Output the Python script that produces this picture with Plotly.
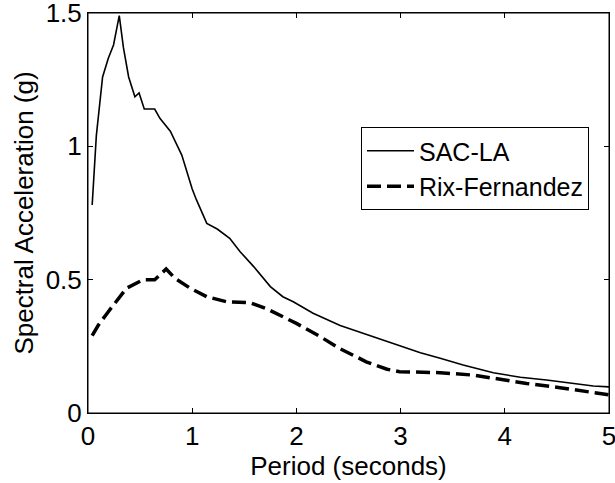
import plotly.graph_objects as go

sac_period = [0.04, 0.08, 0.14, 0.195, 0.245, 0.30, 0.34, 0.39, 0.45, 0.49, 0.54, 0.64, 0.69,
              0.73, 0.79, 0.90, 1.00, 1.04, 1.14, 1.24, 1.36, 1.46, 1.59, 1.75, 1.87, 1.97,
              2.16, 2.42, 2.74, 2.99, 3.19, 3.38, 3.60, 3.89, 4.15, 4.40, 4.66, 4.85, 5.00]
sac_sa = [0.78, 1.04, 1.26, 1.33, 1.38, 1.49, 1.37, 1.26, 1.186, 1.20, 1.14, 1.14, 1.105,
          1.086, 1.057, 0.967, 0.84, 0.80, 0.711, 0.69, 0.655, 0.605, 0.549, 0.474, 0.436, 0.417,
          0.374, 0.328, 0.286, 0.255, 0.226, 0.205, 0.18, 0.151, 0.134, 0.124, 0.111, 0.101, 0.098]

rix_period = [0.04, 0.10, 0.195, 0.37, 0.53, 0.64, 0.75, 0.835, 0.98, 1.14, 1.33, 1.55, 1.72,
              2.00, 2.23, 2.42, 2.67, 2.87, 2.99, 3.38, 3.70, 3.95, 4.21, 4.53, 4.79, 5.00]
rix_sa = [0.29, 0.33, 0.38, 0.468, 0.50, 0.50, 0.54, 0.505, 0.468, 0.436, 0.417, 0.414, 0.39,
          0.336, 0.286, 0.241, 0.192, 0.164, 0.155, 0.151, 0.142, 0.126, 0.111, 0.095, 0.08, 0.068]

x_ticks = [0, 1, 2, 3, 4, 5]
y_ticks = [0, 0.5, 1, 1.5]
y_tick_labels = ["0", "0.5", "1", "1.5"]

FONT = "Liberation Sans, Arial, Helvetica, sans-serif"
FS = 26

fig = go.Figure()
fig.add_trace(go.Scatter(x=sac_period, y=sac_sa, mode="lines", name="SAC-LA",
                         line=dict(color="black", width=1.6)))
fig.add_trace(go.Scatter(x=rix_period, y=rix_sa, mode="lines", name="Rix-Fernandez",
                         line=dict(color="black", width=3.5, dash="14px,6px")))

axis_common = dict(showgrid=False, zeroline=False, showline=True, linecolor="black",
                   linewidth=1, mirror="ticks", ticks="inside", ticklen=5,
                   tickcolor="black", tickwidth=1, automargin=False,
                   ticklabeloverflow="allow",
                   tickfont=dict(family=FONT, size=FS, color="black"))

fig.update_xaxes(range=[0, 5], tickvals=x_ticks, ticktext=[str(t) for t in x_ticks],
                 title=dict(text="Period (seconds)", font=dict(family=FONT, size=FS, color="black"),
                            standoff=2),
                 **axis_common)
fig.update_yaxes(range=[0, 1.5], tickvals=y_ticks, ticktext=y_tick_labels,
                 title=dict(text="Spectral Acceleration (g)", font=dict(family=FONT, size=FS, color="black"),
                            standoff=4),
                 **axis_common)

# plot-area frame (box on)
fig.add_shape(type="rect", xref="paper", yref="paper", x0=0, y0=0, x1=1, y1=1,
              line=dict(color="black", width=1), fillcolor="rgba(0,0,0,0)", layer="above")

fig.update_layout(
    width=615, height=483,
    margin=dict(l=88, r=6, t=13, b=70, autoexpand=False),
    paper_bgcolor="white", plot_bgcolor="white",
    showlegend=True,
    legend=dict(x=0.524, y=0.715, xanchor="left", yanchor="top",
                bgcolor="white", bordercolor="black", borderwidth=1,
                font=dict(family=FONT, size=25, color="black"),
                itemwidth=47, tracegroupgap=0),
)

fig.write_html("out.html",
               config={"displayModeBar": False},
               post_script="document.body.style.margin='0';document.body.style.overflow='hidden';")
